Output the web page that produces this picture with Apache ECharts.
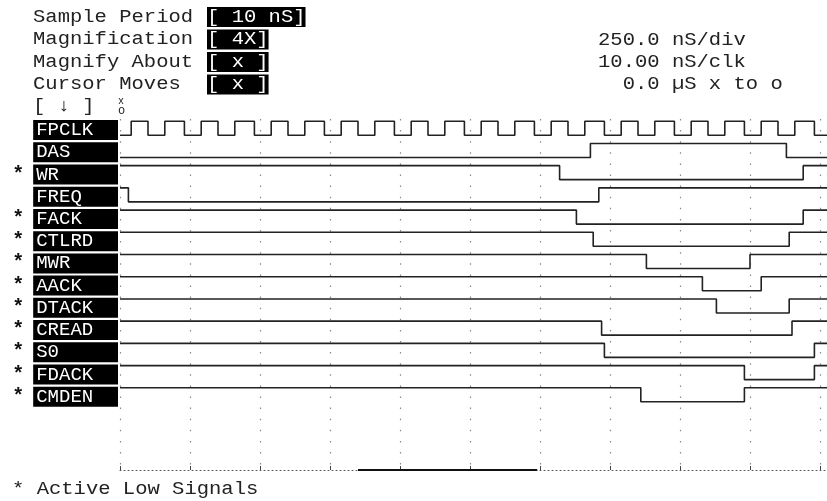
<!DOCTYPE html>
<html>
<head>
<meta charset="utf-8">
<script src="https://cdn.jsdelivr.net/npm/echarts@6/dist/echarts.min.js"></script>
<style>
  html, body { margin: 0; padding: 0; background: #fff; }
  #chart { width: 827px; height: 501px; }
</style>
</head>
<body>
<div id="chart"></div>
<script>
// timing display, times in nS from the left edge of the trace
var X_MAX = 2525;
var signals = ['FPCLK', 'DAS', 'WR', 'FREQ', 'FACK', 'CTLRD', 'MWR', 'AACK', 'DTACK', 'CREAD', 'S0', 'FDACK', 'CMDEN'];
var activeLow = [false, false, true, false, true, true, true, true, true, true, true, true, true];
var startLevel = [0, 0, 1, 1, 1, 1, 1, 1, 1, 1, 1, 1, 1];
// edge times (each one toggles the level)
var edgeTimes = [
  [40, 100, 160, 230, 290, 350, 410, 480, 540, 600, 660, 730, 790, 850, 910, 980, 1040, 1100, 1160, 1230,
   1290, 1350, 1410, 1480, 1540, 1600, 1660, 1730, 1790, 1850, 1910, 1980, 2040, 2100, 2160, 2230, 2290, 2350, 2410, 2480],
  [1680, 2380],
  [1570, 2440],
  [30, 1710],
  [1630, 2440],
  [1690, 2390],
  [1880, 2250],
  [2080, 2290],
  [2130, 2390],
  [1720, 2400],
  [1730, 2480],
  [2230, 2480],
  [1860, 2230]
];
var windowBar = [850, 1490];

var headerLeft = ['Sample Period', 'Magnification', 'Magnify About', 'Cursor Moves'];
var headerBoxes = ['[ 10 nS]', '[ 4X]', '[ x ]', '[ x ]'];
var headerRight = ['250.0 nS/div', '10.00 nS/clk', '  0.0 \u00b5S x to o'];
var footer = '* Active Low Signals';

var MONO = "'Liberation Mono', 'DejaVu Sans Mono', monospace";
var INK = '#222';

function levelY(i, lvl) {
  return i + (lvl ? 0.1 : 0.73);
}

function buildWave(i) {
  var lvl = startLevel[i];
  var pts = [[0, levelY(i, lvl)]];
  edgeTimes[i].forEach(function (t) {
    lvl = 1 - lvl;
    pts.push([t, levelY(i, lvl)]);
  });
  pts.push([X_MAX, levelY(i, lvl)]);
  return pts;
}

function padName(s) {
  while (s.length < 7) s += ' ';
  return s;
}

var series = signals.map(function (name, i) {
  return {
    name: name,
    type: 'line',
    step: 'end',
    symbol: 'none',
    clip: false,
    data: buildWave(i),
    lineStyle: { color: '#222', width: 1.6 }
  };
});

// signal name boxes on the left
series.push({
  type: 'scatter',
  symbolSize: 0,
  silent: true,
  clip: false,
  itemStyle: { opacity: 1 },
  data: signals.map(function (s, i) { return [0, i + 0.5]; }),
  label: {
    show: true,
    position: 'left',
    distance: 2,
    opacity: 1,
    formatter: function (p) {
      var i = p.dataIndex;
      return (activeLow[i] ? '{star|*}' : '{star| }') + '{box|' + padName(signals[i]) + '}';
    },
    rich: {
      star: { width: 30, align: 'center', fontSize: 20, fontWeight: 'bold', fontFamily: MONO, color: '#111' },
      box: {
        backgroundColor: '#000', color: '#fff', height: 20,
        padding: [0, 2, 0, 3], fontSize: 19, fontFamily: MONO, lineHeight: 20
      }
    }
  }
});

// memory window bar on the bottom axis
series.push({
  type: 'line',
  symbol: 'none',
  clip: false,
  silent: true,
  data: [[windowBar[0], 15.8], [windowBar[1], 15.8]],
  lineStyle: { color: '#111', width: 2 }
});

function txt(x, y, text, size, extra) {
  var st = { text: text, fontFamily: MONO, fontSize: size, fill: INK, verticalAlign: 'middle', align: 'left' };
  for (var k in extra || {}) st[k] = extra[k];
  return { type: 'text', x: x, y: y, scaleX: 1.14, style: st, silent: true };
}

var graphics = [];
headerLeft.forEach(function (t, i) {
  graphics.push(txt(33, 17 + i * 22.5, t, 18));
  graphics.push(txt(207, 17 + i * 22.5, headerBoxes[i], 18,
    { fill: '#fff', backgroundColor: '#000', padding: [1, 0, 1, 0] }));
});
headerRight.forEach(function (t, i) {
  graphics.push(txt(598, 40 + i * 22.2, t, 18));
});
graphics.push(txt(33, 106, '[ \u2193 ]', 18));
graphics.push({ type: 'text', x: 118, y: 101, style: { text: 'x', fontFamily: MONO, fontSize: 10, fill: INK, verticalAlign: 'middle' } });
graphics.push({ type: 'text', x: 118, y: 111, style: { text: 'o', fontFamily: MONO, fontSize: 12, fill: INK, verticalAlign: 'middle' } });
graphics.push(txt(12, 489, footer, 18));

var chart = echarts.init(document.getElementById('chart'), null, { renderer: 'canvas' });
chart.setOption({
  backgroundColor: '#fff',
  animation: false,
  grid: { left: 120, right: 0, top: 119, bottom: 31 },
  xAxis: {
    type: 'value',
    min: 0,
    max: X_MAX,
    interval: 250,
    axisLabel: { show: false },
    axisLine: { show: true, onZero: false, lineStyle: { color: '#555', type: [1, 3], width: 1 } },
    axisTick: { show: true, inside: true, length: 4, lineStyle: { color: '#444' } },
    splitLine: { show: true, lineStyle: { color: '#888', type: [1.5, 9.6], width: 1.2 } }
  },
  yAxis: {
    type: 'value',
    min: 0,
    max: 15.8,
    inverse: true,
    show: false,
    splitLine: { show: false }
  },
  graphic: graphics,
  series: series
});
</script>
</body>
</html>
